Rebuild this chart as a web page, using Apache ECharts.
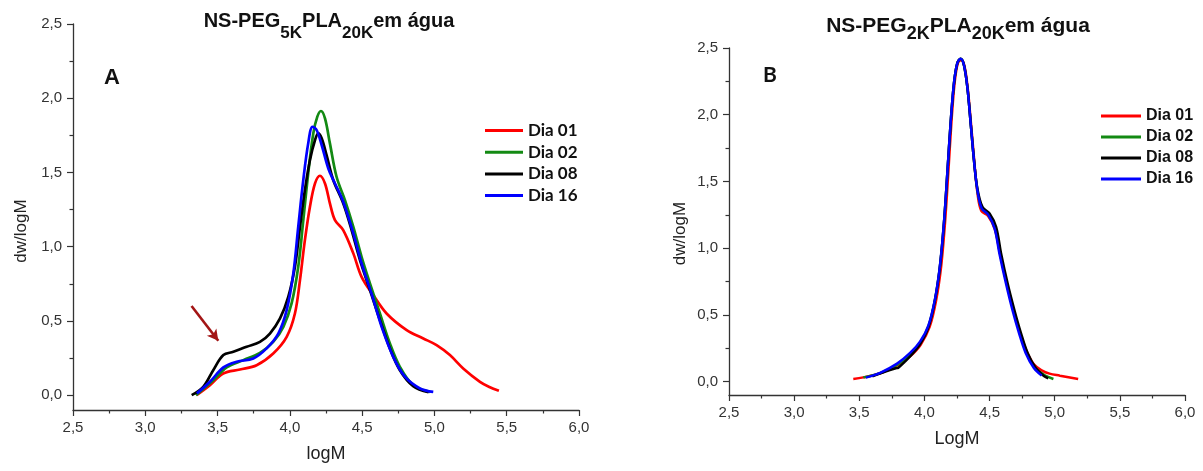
<!DOCTYPE html>
<html>
<head>
<meta charset="utf-8">
<script src="https://cdn.jsdelivr.net/npm/echarts@6/dist/echarts.min.js"></script>
<style>html,body{margin:0;padding:0;background:#fff}#c{width:1203px;height:471px}</style>
</head>
<body>
<div id="c"></div>
<script>
// ---------- data (logM, dw/logM) ----------
const seriesNames = ['Dia 01', 'Dia 02', 'Dia 08', 'Dia 16'];
const seriesColors = ['#ff0000', '#138a13', '#000000', '#0000ff'];

// Panel A: NS-PEG5K PLA20K
const A_dia01 = [[3.355,0.0],[3.447,0.067],[3.539,0.146],[3.655,0.173],[3.770,0.202],[3.885,0.281],[3.978,0.393],[4.035,0.55],[4.070,0.775],[4.104,1.044],[4.139,1.269],[4.174,1.426],[4.208,1.478],[4.243,1.426],[4.277,1.292],[4.312,1.179],[4.369,1.112],[4.439,0.955],[4.496,0.797],[4.577,0.674],[4.669,0.55],[4.808,0.438],[4.923,0.382],[5.015,0.337],[5.107,0.27],[5.199,0.18],[5.315,0.09],[5.38,0.055],[5.446,0.029]];
const A_dia02 = [[3.35,0.0],[3.47,0.101],[3.563,0.187],[3.678,0.236],[3.793,0.285],[3.885,0.359],[3.955,0.46],[4.012,0.618],[4.058,0.865],[4.093,1.179],[4.127,1.494],[4.162,1.763],[4.19,1.876],[4.215,1.914],[4.243,1.864],[4.277,1.696],[4.323,1.471],[4.381,1.314],[4.439,1.134],[4.496,0.932],[4.554,0.753],[4.623,0.55],[4.692,0.348],[4.761,0.191],[4.853,0.067],[4.969,0.022]];
const A_dia08 = [[3.321,0.0],[3.401,0.056],[3.47,0.168],[3.54,0.27],[3.609,0.292],[3.701,0.326],[3.793,0.359],[3.862,0.415],[3.932,0.517],[3.989,0.662],[4.035,0.865],[4.07,1.134],[4.104,1.381],[4.139,1.584],[4.174,1.718],[4.197,1.763],[4.22,1.73],[4.254,1.617],[4.3,1.449],[4.369,1.292],[4.427,1.112],[4.485,0.91],[4.554,0.708],[4.623,0.505],[4.692,0.315],[4.761,0.168],[4.853,0.061],[4.96,0.02]];
const A_dia16 = [[3.357,0.012],[3.447,0.09],[3.54,0.187],[3.632,0.225],[3.747,0.247],[3.839,0.315],[3.92,0.415],[3.978,0.573],[4.024,0.82],[4.058,1.134],[4.093,1.449],[4.127,1.696],[4.157,1.808],[4.185,1.786],[4.22,1.685],[4.266,1.527],[4.312,1.426],[4.369,1.303],[4.439,1.09],[4.496,0.887],[4.572,0.662],[4.635,0.46],[4.715,0.258],[4.796,0.124],[4.9,0.045],[4.992,0.022]];
// arrow annotation in panel A (from, to)
const A_arrow = [[3.32,0.60],[3.505,0.366]];

// Panel B: NS-PEG2K PLA20K
const B_dia01 = [[3.454,0.02],[3.53,0.032],[3.66,0.063],[3.79,0.12],[3.89,0.19],[3.97,0.275],[4.04,0.41],[4.09,0.61],[4.128,0.86],[4.158,1.19],[4.183,1.56],[4.207,1.94],[4.232,2.24],[4.256,2.385],[4.281,2.41],[4.306,2.37],[4.331,2.21],[4.357,1.94],[4.382,1.66],[4.406,1.42],[4.436,1.28],[4.49,1.24],[4.541,1.14],[4.58,0.96],[4.631,0.74],[4.682,0.54],[4.733,0.37],[4.784,0.23],[4.84,0.13],[4.9,0.085],[4.96,0.06],[5.04,0.045],[5.18,0.02]];
const B_dia02 = [[3.531,0.032],[3.66,0.064],[3.79,0.125],[3.89,0.2],[3.966,0.288],[4.03,0.414],[4.081,0.614],[4.119,0.863],[4.15,1.188],[4.176,1.562],[4.201,1.936],[4.227,2.236],[4.252,2.385],[4.278,2.42],[4.303,2.373],[4.329,2.21],[4.355,1.936],[4.38,1.662],[4.406,1.437],[4.439,1.3],[4.49,1.25],[4.541,1.15],[4.58,0.963],[4.631,0.739],[4.682,0.539],[4.733,0.364],[4.784,0.215],[4.848,0.105],[4.92,0.05],[4.99,0.02]];
const B_dia08 = [[3.6,0.04],[3.7,0.075],[3.78,0.1],[3.8,0.105],[3.85,0.15],[3.9,0.2],[3.966,0.28],[4.03,0.405],[4.081,0.61],[4.119,0.86],[4.15,1.188],[4.176,1.562],[4.201,1.936],[4.227,2.236],[4.252,2.385],[4.278,2.42],[4.303,2.373],[4.329,2.21],[4.355,1.936],[4.38,1.662],[4.406,1.45],[4.445,1.31],[4.5,1.26],[4.55,1.16],[4.588,0.963],[4.638,0.739],[4.69,0.539],[4.741,0.364],[4.792,0.215],[4.855,0.102],[4.92,0.04],[4.95,0.025]];
const B_dia16 = [[3.55,0.03],[3.66,0.066],[3.79,0.135],[3.89,0.215],[3.966,0.3],[4.03,0.42],[4.081,0.62],[4.119,0.87],[4.15,1.195],[4.176,1.57],[4.201,1.94],[4.227,2.24],[4.252,2.385],[4.278,2.42],[4.303,2.373],[4.329,2.21],[4.355,1.936],[4.38,1.662],[4.406,1.437],[4.439,1.3],[4.49,1.25],[4.538,1.15],[4.575,0.963],[4.625,0.739],[4.675,0.539],[4.726,0.364],[4.777,0.215],[4.84,0.102],[4.9,0.045]];

// axis ticks
const xTicks = [2.5, 3.0, 3.5, 4.0, 4.5, 5.0, 5.5, 6.0];
const yMajorTicks = [0, 0.5, 1.0, 1.5, 2.0, 2.5];
const yMinorTicks = [0.25, 0.75, 1.25, 1.75, 2.25];

// ---------- chart ----------
const FONT = "'Liberation Sans', Arial, Helvetica, sans-serif";
const AXIS_COLOR = '#333';
const fmt = v => v.toFixed(1).replace('.', ',');

function xAxisCfg(gridIndex, name, labelSize) {
  return {
    type: 'value', gridIndex, min: xTicks[0], max: xTicks[xTicks.length - 1], interval: 0.5,
    name, nameLocation: 'middle', nameGap: 35,
    nameTextStyle: { fontFamily: FONT, fontSize: 18, color: '#222' },
    axisLine: { show: true, onZero: false, lineStyle: { color: AXIS_COLOR, width: 1.3 } },
    axisTick: { show: true, inside: false, length: 6, lineStyle: { color: AXIS_COLOR, width: 1.2 } },
    minorTick: { show: true, splitNumber: 2, length: 3.5, lineStyle: { color: AXIS_COLOR, width: 1.2 } },
    axisLabel: { fontFamily: FONT, fontSize: labelSize, color: '#333', margin: 10, formatter: fmt },
    splitLine: { show: false }, minorSplitLine: { show: false }
  };
}
function yAxisMain(gridIndex, nameGap, pad, labelSize) {
  return {
    type: 'value', gridIndex, min: -0.1, max: 2.5, splitNumber: 5,
    name: 'dw/logM', nameLocation: 'middle', nameGap,
    nameTextStyle: { fontFamily: FONT, fontSize: 17, color: '#222', padding: pad },
    axisLine: { show: true, onZero: false, lineStyle: { color: AXIS_COLOR, width: 1.3 } },
    axisTick: { show: true, inside: false, length: 6, customValues: yMajorTicks, lineStyle: { color: AXIS_COLOR, width: 1.2 } },
    axisLabel: { fontFamily: FONT, fontSize: labelSize, color: '#333', margin: 11, customValues: yMajorTicks, formatter: fmt },
    splitLine: { show: false }
  };
}
function yAxisMinor(gridIndex) {
  return {
    type: 'value', gridIndex, min: -0.1, max: 2.5, position: 'left',
    axisLine: { show: false },
    axisTick: { show: true, inside: false, length: 3.5, customValues: yMinorTicks, lineStyle: { color: AXIS_COLOR, width: 1.2 } },
    axisLabel: { show: false }, splitLine: { show: false }
  };
}

const panelA = [A_dia01, A_dia02, A_dia08, A_dia16];
const panelB = [B_dia01, B_dia02, B_dia08, B_dia16];
const series = [];
panelA.forEach((d, i) => {
  const s = {
    name: seriesNames[i], type: 'line', xAxisIndex: 0, yAxisIndex: 0, data: d,
    smooth: 0.35, showSymbol: false, symbol: 'none', color: seriesColors[i],
    lineStyle: { width: 2.7, color: seriesColors[i] }, z: 3 + i
  };
  if (i === 0) {
    s.markLine = {
      silent: true, symbol: ['none', 'arrow'], symbolSize: [9, 11],
      label: { show: false },
      lineStyle: { color: '#a31515', width: 2.6, type: 'solid' },
      data: [[{ coord: A_arrow[0] }, { coord: A_arrow[1] }]]
    };
  }
  series.push(s);
});
panelB.forEach((d, i) => {
  series.push({
    name: seriesNames[i], type: 'line', xAxisIndex: 1, yAxisIndex: 2, data: d,
    smooth: 0.35, showSymbol: false, symbol: 'none', color: seriesColors[i],
    lineStyle: { width: 2.5, color: seriesColors[i] }, z: 3 + i
  });
});

const option = {
  animation: false,
  backgroundColor: '#fff',
  title: [
    {
      left: 329, top: 11, textAlign: 'center', padding: 0,
      text: '{m|NS-PEG}{s|5K}{m|PLA}{s|20K}{m|em água}',
      textStyle: { rich: {
        m: { fontFamily: FONT, fontWeight: 'bold', fontSize: 20, color: '#111', lineHeight: 20, verticalAlign: 'top' },
        s: { fontFamily: FONT, fontWeight: 'bold', fontSize: 17, color: '#111', lineHeight: 16, padding: [14, 0, 0, 0], verticalAlign: 'top' }
      } }
    },
    {
      left: 958, top: 16, textAlign: 'center', padding: 0,
      text: '{m|NS-PEG}{s|2K}{m|PLA}{s|20K}{m|em água}',
      textStyle: { rich: {
        m: { fontFamily: FONT, fontWeight: 'bold', fontSize: 21, color: '#111', lineHeight: 20, verticalAlign: 'top' },
        s: { fontFamily: FONT, fontWeight: 'bold', fontSize: 18, color: '#111', lineHeight: 16, padding: [9, 0, 0, 0], verticalAlign: 'top' }
      } }
    },
    { left: 104, top: 67, padding: 0, text: 'A', textStyle: { fontFamily: FONT, fontWeight: 'bold', fontSize: 22, color: '#111' } },
    { left: 763, top: 65, padding: 0, text: 'B', textStyle: { fontFamily: "Lato, 'Open Sans', sans-serif", fontWeight: 'bold', fontSize: 21, color: '#111' } }
  ],
  legend: [
    {
      orient: 'vertical', left: 485, top: 122, padding: 0, itemGap: 4.7,
      itemWidth: 38, itemHeight: 3, icon: 'rect', selectedMode: false,
      data: seriesNames,
      textStyle: { fontFamily: "Lato, 'Open Sans', sans-serif", fontWeight: 'bold', fontSize: 17, lineHeight: 17, color: '#111', padding: [0, 0, 0, 0] }
    },
    {
      orient: 'vertical', left: 1101, top: 108, padding: 0, itemGap: 5,
      itemWidth: 40, itemHeight: 3, icon: 'rect', selectedMode: false,
      data: seriesNames,
      textStyle: { fontFamily: FONT, fontWeight: 'bold', fontSize: 16, lineHeight: 16, color: '#111' }
    }
  ],
  grid: [
    { left: 73, top: 24, width: 506, height: 386 },
    { left: 729, top: 48, width: 456, height: 347 }
  ],
  xAxis: [ xAxisCfg(0, 'logM', 15), xAxisCfg(1, 'LogM', 15) ],
  yAxis: [ yAxisMain(0, 43, [0, 28, 0, 0], 15), yAxisMinor(0), yAxisMain(1, 40, [0, 24, 0, 0], 15), yAxisMinor(1) ],
  series
};

const chart = echarts.init(document.getElementById('c'), null, { renderer: 'canvas' });
chart.setOption(option);
</script>
</body>
</html>
